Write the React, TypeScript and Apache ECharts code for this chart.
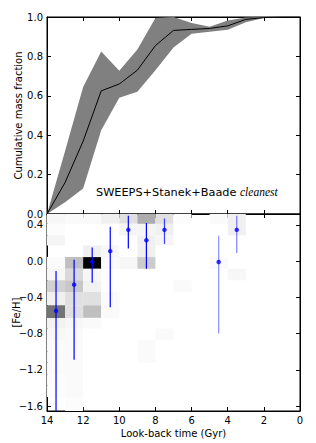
import React, { useEffect, useRef } from "react";
import * as echarts from "echarts";

// ---- Top panel: cumulative mass fraction ----
const ages = [14, 13, 12, 11, 10, 9, 8, 7, 6, 5, 4, 3, 2, 1, 0];
const median = [0, 0.16, 0.37, 0.625, 0.66, 0.73, 0.855, 0.932, 0.937, 0.942, 0.955, 0.988, 0.997, 1, 1];
const upper = [0, 0.32, 0.645, 0.825, 0.727, 0.835, 0.995, 1.0, 0.97, 0.95, 0.982, 0.998, 1, 1, 1];
const lower = [0, 0.06, 0.13, 0.425, 0.59, 0.62, 0.73, 0.845, 0.915, 0.925, 0.935, 0.973, 0.995, 1, 1];

// ---- Bottom panel: age-metallicity histogram ----
const colEdges = [14, 13, 12, 11, 10, 9, 8, 7, 6, 5, 4, 3, 2, 1, 0];
const rowEdges = [0.54, 0.411, 0.283, 0.173, 0.044, -0.085, -0.212, -0.341, -0.488, -0.627, -0.745, -0.87, -1.0, -1.12, -1.25, -1.37, -1.5, -1.62, -1.75];
const cellValues = [
  [0.03, 0.02, 0.02, 0.06, 0.12, 0.32, 0.12, 0.01, 0, 0.02, 0.06, 0, 0, 0],
  [0.01, 0, 0, 0, 0.04, 0.04, 0.06, 0, 0, 0, 0.06, 0, 0, 0],
  [0.04, 0, 0, 0, 0, 0.06, 0.04, 0, 0, 0, 0, 0, 0, 0],
  [0, 0, 0.06, 0.03, 0, 0.06, 0, 0, 0, 0, 0, 0, 0, 0],
  [0.02, 0.25, 1.0, 0.02, 0.03, 0.2, 0, 0, 0, 0.02, 0, 0, 0, 0],
  [0.03, 0.15, 0.03, 0, 0, 0, 0, 0, 0, 0, 0.03, 0, 0, 0],
  [0.18, 0.22, 0.05, 0, 0, 0, 0, 0.02, 0, 0, 0, 0, 0, 0],
  [0.06, 0.12, 0.12, 0.02, 0, 0, 0, 0, 0, 0, 0, 0, 0, 0],
  [0.55, 0.12, 0.25, 0.02, 0, 0, 0, 0, 0, 0, 0, 0, 0, 0],
  [0.05, 0.03, 0.02, 0, 0, 0, 0, 0, 0, 0, 0, 0, 0, 0],
  [0.03, 0.02, 0, 0, 0, 0, 0.02, 0, 0, 0, 0, 0, 0, 0],
  [0.02, 0.02, 0, 0, 0, 0.02, 0, 0, 0, 0, 0, 0, 0, 0],
  [0.02, 0.02, 0, 0, 0, 0.02, 0, 0, 0, 0, 0, 0, 0, 0],
  [0.02, 0.02, 0, 0, 0, 0, 0, 0, 0, 0, 0, 0, 0, 0],
  [0.01, 0.02, 0, 0, 0, 0, 0, 0, 0, 0, 0, 0, 0, 0],
  [0.01, 0.02, 0, 0, 0, 0, 0, 0, 0, 0, 0, 0, 0, 0],
  [0, 0.01, 0, 0, 0, 0, 0, 0, 0, 0, 0, 0, 0, 0],
  [0, 0.01, 0, 0, 0, 0, 0, 0, 0, 0, 0, 0, 0, 0],
];

// error bars (age, [Fe/H], low, high)
const ebAge = [13.5, 12.5, 11.5, 10.5, 9.5, 8.5, 7.5, 4.5, 3.5];
const ebFeh = [-0.55, -0.26, -0.01, 0.11, 0.345, 0.23, 0.345, -0.01, 0.345];
const ebLo = [-1.9, -1.09, -0.24, -0.51, 0.14, -0.085, 0.19, -0.8, 0.09];
const ebHi = [-0.11, 0.015, 0.15, 0.38, 0.5, 0.42, 0.47, 0.28, 0.5];
const ebAlpha = [1, 1, 1, 1, 1, 1, 0.75, 0.45, 0.5];

const fehTicks = [-1.6, -1.2, -0.8, -0.4, 0.0, 0.4];

const FONT = "DejaVu Sans";
const minus = (s: string) => s.replace("-", "\u2212");

export default function App() {
  const ref = useRef<HTMLDivElement>(null);
  useEffect(() => {
    if (!ref.current) return;
    const chart = echarts.init(ref.current, null, { renderer: "svg" });

    const cells: number[][] = [];
    for (let r = 0; r < cellValues.length; r++) {
      for (let c = 0; c < cellValues[r].length; c++) {
        const v = cellValues[r][c];
        if (v > 0) cells.push([colEdges[c], colEdges[c + 1], rowEdges[r], rowEdges[r + 1], v]);
      }
    }
    const ebData = ebAge.map((a, i) => [a, ebLo[i], ebHi[i], ebAlpha[i]]);

    const axisLine = () => ({ show: true, onZero: false, lineStyle: { color: "#000", width: 1 } });
    const tickIn = (extra: any = {}) => ({ show: true, inside: true, length: 4, lineStyle: { color: "#000", width: 1 }, ...extra });
    const lbl = () => ({ fontFamily: FONT, fontSize: 10, color: "#000" });
    const nameStyle = () => ({ fontFamily: FONT, fontSize: 10, color: "#000" });

    const xBase = (gridIndex: number, position: string, showLabel: boolean, extra: any = {}) => ({
      type: "value",
      gridIndex,
      position,
      min: 0,
      max: 14,
      interval: 2,
      inverse: true,
      axisLine: axisLine(),
      axisTick: tickIn(),
      splitLine: { show: false },
      axisLabel: showLabel ? { ...lbl(), margin: 4 } : { show: false },
      ...extra,
    });

    const gridBase = { outerBoundsMode: "none", containLabel: false, show: true, borderColor: "#000", borderWidth: 1, backgroundColor: "transparent" };

    const option: any = {
      animation: false,
      backgroundColor: "#fff",
      grid: [
        { left: 47, top: 17, width: 253, height: 197, ...gridBase },
        { left: 47, top: 214, width: 253, height: 197, ...gridBase },
      ],
      xAxis: [
        xBase(0, "bottom", false),
        xBase(0, "top", false),
        xBase(1, "bottom", true, {
          name: "Look-back time (Gyr)",
          nameLocation: "middle",
          nameGap: 17,
          nameMoveOverlap: false,
          nameTextStyle: nameStyle(),
        }),
        xBase(1, "top", false),
      ],
      yAxis: [
        {
          type: "value",
          gridIndex: 0,
          position: "left",
          min: 0,
          max: 1,
          interval: 0.2,
          axisLine: axisLine(),
          axisTick: tickIn(),
          splitLine: { show: false },
          axisLabel: { ...lbl(), margin: 4, formatter: (v: number) => v.toFixed(1) },
          name: "Cumulative mass fraction",
          nameLocation: "middle",
          nameGap: 24,
          nameMoveOverlap: false,
          nameTextStyle: nameStyle(),
        },
        {
          type: "value",
          gridIndex: 0,
          position: "right",
          min: 0,
          max: 1,
          interval: 0.2,
          axisLine: axisLine(),
          axisTick: tickIn(),
          splitLine: { show: false },
          axisLabel: { show: false },
        },
        {
          type: "value",
          gridIndex: 1,
          position: "left",
          min: -1.655,
          max: 0.52,
          axisLine: axisLine(),
          axisTick: tickIn({ customValues: fehTicks }),
          splitLine: { show: false },
          axisLabel: {
            ...lbl(),
            margin: 4,
            customValues: fehTicks,
            formatter: (v: number) => minus(v.toFixed(1)),
          },
          name: "[Fe/H]",
          nameLocation: "middle",
          nameGap: 26,
          nameMoveOverlap: false,
          nameTextStyle: nameStyle(),
        },
        {
          type: "value",
          gridIndex: 1,
          position: "right",
          min: -1.655,
          max: 0.52,
          axisLine: axisLine(),
          axisTick: tickIn({ customValues: fehTicks }),
          splitLine: { show: false },
          axisLabel: {
            show: true,
            fontSize: 1,
            color: "rgba(0,0,0,0)",
            margin: 0,
            customValues: fehTicks,
            formatter: () => " ",
          },
        },
      ],
      series: [
        {
          type: "custom",
          xAxisIndex: 0,
          yAxisIndex: 0,
          clip: true,
          data: [[0]],
          renderItem: (params: any, api: any) => {
            const pts: number[][] = [];
            for (let i = 0; i < ages.length; i++) pts.push(api.coord([ages[i], upper[i]]));
            for (let i = ages.length - 1; i >= 0; i--) pts.push(api.coord([ages[i], lower[i]]));
            return { type: "polygon", shape: { points: pts }, style: { fill: "#808080", stroke: "none" } };
          },
          z: 1,
        },
        {
          type: "line",
          xAxisIndex: 0,
          yAxisIndex: 0,
          data: ages.map((a, i) => [a, median[i]]),
          symbol: "none",
          lineStyle: { color: "#000", width: 1 },
          z: 2,
        },
        {
          type: "custom",
          xAxisIndex: 2,
          yAxisIndex: 2,
          clip: true,
          data: cells,
          renderItem: (params: any, api: any) => {
            const p0 = api.coord([api.value(0), api.value(2)]);
            const p1 = api.coord([api.value(1), api.value(3)]);
            const v = api.value(4);
            const g = Math.round(255 * (1 - v));
            return {
              type: "rect",
              shape: {
                x: Math.min(p0[0], p1[0]),
                y: Math.min(p0[1], p1[1]),
                width: Math.abs(p1[0] - p0[0]),
                height: Math.abs(p1[1] - p0[1]),
              },
              style: { fill: `rgb(${g},${g},${g})`, stroke: "none" },
            };
          },
          z: 1,
        },
        {
          type: "custom",
          xAxisIndex: 2,
          yAxisIndex: 2,
          clip: true,
          data: ebData,
          renderItem: (params: any, api: any) => {
            const a = api.value(0);
            const p0 = api.coord([a, api.value(1)]);
            const p1 = api.coord([a, api.value(2)]);
            const al = api.value(3);
            return {
              type: "line",
              shape: { x1: p0[0], y1: p0[1], x2: p1[0], y2: p1[1] },
              style: { stroke: `rgba(0,0,255,${al})`, lineWidth: 1.2 },
            };
          },
          z: 3,
        },
        {
          type: "scatter",
          xAxisIndex: 2,
          yAxisIndex: 2,
          data: ebAge.map((a, i) => [a, ebFeh[i]]),
          symbol: "circle",
          symbolSize: 4.5,
          itemStyle: { color: "#0000ff" },
          z: 4,
        },
      ],
      graphic: [
        {
          type: "text",
          left: 96,
          top: 186,
          style: {
            text: "{a|SWEEPS+Stanek+Baade }{b|cleanest}",
            rich: {
              a: { fontFamily: FONT, fontSize: 11.3, fill: "#000" },
              b: { fontFamily: "Liberation Serif", fontStyle: "italic", fontSize: 11.5, fill: "#000" },
            },
          },
        },
      ],
    };
    chart.setOption(option);
    return () => chart.dispose();
  }, []);
  return (
    <div
      ref={ref}
      style={{ position: "fixed", left: 0, top: 0, width: 316, height: 443, background: "#fff" }}
    />
  );
}
